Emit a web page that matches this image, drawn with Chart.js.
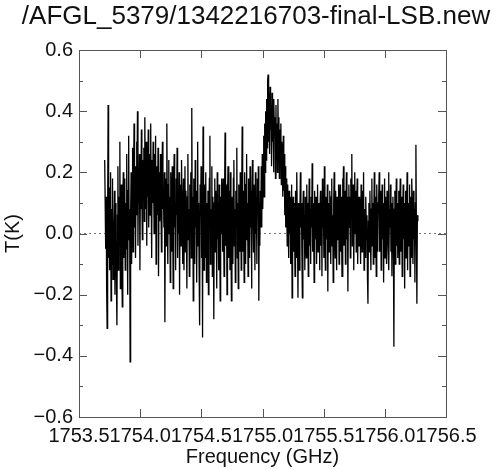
<!DOCTYPE html>
<html>
<head>
<meta charset="utf-8">
<script src="https://cdn.jsdelivr.net/npm/chart.js@4/dist/chart.umd.min.js"></script>
<style>
  html, body { margin: 0; padding: 0; background: #ffffff; }
  #wrap { width: 500px; height: 470px; }
</style>
</head>
<body>
<div id="wrap"><canvas id="c" width="500" height="470"></canvas></div>
<script>
// ---- data ----
const chartTitle = "/AFGL_5379/1342216703-final-LSB.new";
const xTitle = "Frequency (GHz)";
const yTitle = "T(K)";
const xTicks = [1753.5, 1754.0, 1754.5, 1755.0, 1755.5, 1756.0, 1756.5];
const yTicks = [-0.6, -0.4, -0.2, 0.0, 0.2, 0.4, 0.6];
const yMinorTicks = [-0.5, -0.3, -0.1, 0.1, 0.3, 0.5];
const freqStart = 1753.71;      // GHz, first channel
const channelWidth = 0.004;     // GHz per channel
const temperature = [
  0.24,0.10,-0.05,0.12,-0.18,-0.31,0.05,0.42,-0.08,0.15,-0.12,0.02,0.20,-0.22,0.08,-0.10,0.18,-0.15,0.04,-0.06,
  0.14,-0.20,0.10,-0.02,-0.16,-0.30,0.06,0.22,-0.12,0.12,-0.04,0.30,-0.18,0.02,0.16,-0.10,-0.24,0.08,0.20,-0.08,
  0.02,0.18,-0.12,0.10,-0.05,0.26,0.04,-0.20,0.14,0.32,-0.02,0.08,-0.42,0.06,0.20,-0.10,0.12,0.28,-0.06,0.16,
  0.36,0.02,0.22,-0.08,0.14,0.30,0.06,0.40,-0.04,0.18,0.10,0.26,-0.12,0.20,0.08,0.34,0.12,-0.02,0.24,0.16,
  0.28,0.04,0.38,0.16,0.08,0.30,-0.04,0.22,0.12,0.34,0.02,0.18,0.26,0.06,0.36,0.14,-0.08,0.24,0.10,0.30,
  0.18,0.00,0.26,0.12,0.32,-0.10,0.16,0.22,0.06,0.28,-0.14,0.12,0.20,0.04,0.26,0.10,-0.06,0.18,0.30,0.08,
  0.14,0.02,0.20,-0.29,0.10,0.18,-0.04,0.36,0.06,-0.10,0.16,0.24,0.00,0.12,-0.16,0.20,0.08,-0.06,0.22,0.04,
  -0.18,0.14,0.26,0.02,0.10,-0.12,0.18,0.06,0.28,-0.08,0.12,0.00,0.20,-0.20,0.08,0.16,-0.04,0.24,0.10,-0.10,
  0.06,0.18,-0.12,0.10,0.22,-0.06,0.14,0.02,-0.18,0.12,0.26,-0.02,0.08,-0.14,0.16,0.04,0.20,-0.08,0.41,0.00,
  0.12,-0.22,0.18,0.06,-0.10,0.24,0.02,0.14,-0.16,0.08,0.30,-0.04,0.10,-0.12,-0.30,0.16,0.06,0.22,-0.08,0.12,
  -0.34,0.35,0.04,-0.12,0.16,0.02,-0.08,0.20,-0.16,0.10,0.00,0.14,-0.20,0.06,0.18,0.32,-0.10,0.08,-0.04,0.22,
  -0.14,0.12,0.02,-0.28,0.10,0.18,-0.06,0.14,0.04,-0.18,0.20,-0.02,0.10,-0.12,0.16,0.06,-0.22,0.12,0.00,0.18,
  0.10,-0.06,0.18,0.02,-0.14,0.12,0.33,-0.04,0.16,0.06,-0.20,0.10,0.22,-0.08,0.04,0.14,-0.12,0.20,0.00,-0.22,
  0.12,0.06,-0.10,0.18,0.24,-0.04,0.08,-0.16,0.14,0.02,0.28,-0.08,0.10,-0.18,0.16,0.04,-0.06,0.20,0.08,-0.12,
  0.12,0.35,-0.06,0.14,0.04,-0.16,0.20,0.08,-0.10,0.16,0.26,-0.02,0.10,-0.14,0.18,0.06,-0.08,0.22,0.02,0.14,
  -0.18,0.10,0.24,0.04,-0.06,0.16,0.08,-0.12,0.20,0.00,0.12,-0.10,0.18,0.06,0.22,-0.22,0.10,-0.04,0.14,0.02,
  0.22,0.02,0.26,0.08,0.18,0.32,0.12,0.36,0.20,0.40,0.24,0.44,0.28,0.50,0.52,0.30,0.46,0.26,0.48,0.34,
  0.42,0.22,0.46,0.30,0.40,0.20,0.44,0.32,0.38,0.18,0.42,0.26,0.36,0.20,0.44,0.28,0.38,0.18,0.34,0.24,
  0.36,0.16,0.30,0.22,0.12,0.32,0.14,0.26,0.06,0.22,0.02,0.18,0.10,-0.04,0.16,0.06,-0.08,0.14,0.00,0.12,
  -0.10,0.08,0.16,-0.21,0.04,0.12,-0.06,0.10,0.02,-0.14,0.14,0.06,-0.08,0.20,0.00,-0.21,0.10,0.04,-0.12,0.08,
  0.20,0.02,0.10,-0.06,-0.21,0.08,0.14,-0.02,0.06,-0.12,0.12,0.04,-0.08,0.16,0.00,0.10,-0.14,0.06,0.18,-0.04,
  0.08,-0.10,0.12,0.02,0.23,-0.06,0.10,0.04,-0.16,0.14,0.06,-0.02,0.12,-0.10,0.08,0.16,-0.06,0.04,0.10,-0.12,
  0.06,0.14,-0.04,0.10,-0.14,0.18,0.02,0.08,-0.08,0.22,0.04,-0.12,0.12,0.06,-0.02,0.16,-0.19,0.08,0.10,-0.06,
  0.14,0.02,-0.10,0.12,0.18,-0.04,0.06,-0.16,0.10,0.20,0.00,-0.08,0.14,0.04,-0.12,0.12,0.08,-0.02,0.16,-0.10,
  0.08,0.16,-0.06,0.12,0.02,-0.14,0.18,0.06,0.22,-0.04,0.10,0.14,-0.10,0.06,0.20,-0.02,0.12,-0.19,0.08,0.16,
  0.02,0.12,-0.08,0.18,0.06,0.26,-0.04,0.10,0.16,-0.12,0.08,0.20,0.00,0.14,-0.06,0.10,0.18,-0.10,0.06,0.12,
  -0.04,0.12,0.04,-0.10,0.16,0.06,-0.06,0.14,0.00,0.20,-0.12,0.08,0.02,-0.08,0.12,-0.02,0.06,-0.14,-0.23,0.04,
  0.10,-0.06,0.14,0.02,-0.12,0.08,0.18,-0.04,0.10,-0.10,0.06,0.20,-0.08,0.12,0.02,-0.14,0.16,0.04,-0.06,0.10,
  0.12,0.20,-0.06,0.08,0.14,-0.12,0.04,0.16,-0.02,0.10,-0.16,0.06,0.18,-0.08,0.12,0.02,-0.10,0.14,0.06,-0.04,
  0.20,-0.12,0.08,0.02,0.16,-0.06,0.10,-0.14,0.04,0.12,-0.02,-0.37,0.08,0.14,-0.10,0.06,0.18,-0.04,0.10,-0.08,
  0.04,0.14,-0.10,0.08,0.18,-0.06,0.02,0.12,-0.14,0.06,0.16,-0.02,0.10,-0.18,0.08,0.14,-0.08,0.04,0.20,-0.12,
  0.06,0.10,-0.04,0.16,-0.14,0.02,0.12,-0.08,0.18,0.04,-0.10,0.14,-0.02,0.08,-0.16,0.10,0.29,0.02,-0.23,0.06,
  0.04
];

// ---- build library data ----
const spectrum = temperature.map((t, i) => ({ x: +(freqStart + i * channelWidth).toFixed(4), y: t }));
const zeroLine = [{ x: xTicks[0], y: 0 }, { x: xTicks[xTicks.length - 1], y: 0 }];

const FONT = "'Liberation Sans', Arial, Helvetica, sans-serif";
const AXIS_COLOR = '#555555';

function fmtY(v) {
  const r = Math.round(v * 10) / 10;
  if (r === 0) return '0.0';
  return (r < 0 ? '\u2212' : '') + Math.abs(r).toFixed(1);
}

const framePlugin = {
  id: 'frame',
  afterDraw(chart) {
    const { ctx, chartArea: a, scales } = chart;
    const xs = scales.x, ys = scales.y;
    ctx.save();
    ctx.strokeStyle = AXIS_COLOR;
    ctx.lineWidth = 1;
    ctx.strokeRect(Math.round(a.left) + 0.5, Math.round(a.top) + 0.5,
                   Math.round(a.right - a.left), Math.round(a.bottom - a.top));
    ctx.beginPath();
    const major = 8, minor = 4;
    xTicks.forEach(v => {
      const px = Math.round(xs.getPixelForValue(v)) + 0.5;
      ctx.moveTo(px, a.bottom); ctx.lineTo(px, a.bottom - major);
      ctx.moveTo(px, a.top); ctx.lineTo(px, a.top + major);
    });
    yTicks.forEach(v => {
      const py = Math.round(ys.getPixelForValue(v)) + 0.5;
      ctx.moveTo(a.left, py); ctx.lineTo(a.left + major, py);
      ctx.moveTo(a.right, py); ctx.lineTo(a.right - major, py);
    });
    yMinorTicks.forEach(v => {
      const py = Math.round(ys.getPixelForValue(v)) + 0.5;
      ctx.moveTo(a.left, py); ctx.lineTo(a.left + minor, py);
      ctx.moveTo(a.right, py); ctx.lineTo(a.right - minor, py);
    });
    ctx.stroke();

    // titles
    ctx.fillStyle = '#111111';
    ctx.textAlign = 'center';
    ctx.textBaseline = 'alphabetic';
    ctx.font = '26px ' + FONT;
    ctx.fillText(chartTitle, 256, 24);
    ctx.font = '20px ' + FONT;
    ctx.fillText(xTitle, (a.left + a.right) / 2, 463);
    ctx.translate(19, (a.top + a.bottom) / 2);
    ctx.rotate(-Math.PI / 2);
    ctx.fillText(yTitle, 0, 0);
    ctx.restore();
  }
};

new Chart(document.getElementById('c'), {
  type: 'line',
  data: {
    datasets: [
      {
        data: spectrum,
        borderColor: '#000000',
        borderWidth: 1.3,
        pointRadius: 0,
        tension: 0,
        fill: false
      },
      {
        data: zeroLine,
        borderColor: '#777777',
        borderWidth: 1,
        borderDash: [2, 3],
        pointRadius: 0,
        fill: false
      }
    ]
  },
  options: {
    responsive: false,
    animation: false,
    layout: { padding: { top: 50, right: 54, left: 0, bottom: 0 } },
    plugins: { legend: { display: false }, tooltip: { enabled: false }, title: { display: false } },
    scales: {
      x: {
        type: 'linear',
        min: xTicks[0],
        max: xTicks[xTicks.length - 1],
        afterBuildTicks: s => { s.ticks = xTicks.map(v => ({ value: v })); },
        afterFit: s => { s.height = 53; },
        grid: { display: false, drawTicks: false },
        border: { display: false },
        ticks: {
          autoSkip: false, maxRotation: 0, minRotation: 0, padding: 7,
          color: '#111111', font: { family: FONT, size: 20 },
          callback: v => v.toFixed(1)
        }
      },
      y: {
        type: 'linear',
        min: yTicks[0],
        max: yTicks[yTicks.length - 1],
        afterBuildTicks: s => { s.ticks = yTicks.map(v => ({ value: v })); },
        afterFit: s => { s.width = 79; },
        grid: { display: false, drawTicks: false },
        border: { display: false },
        ticks: {
          padding: 6, color: '#111111', font: { family: FONT, size: 20 },
          callback: v => fmtY(v)
        }
      }
    }
  },
  plugins: [framePlugin]
});
</script>
</body>
</html>
